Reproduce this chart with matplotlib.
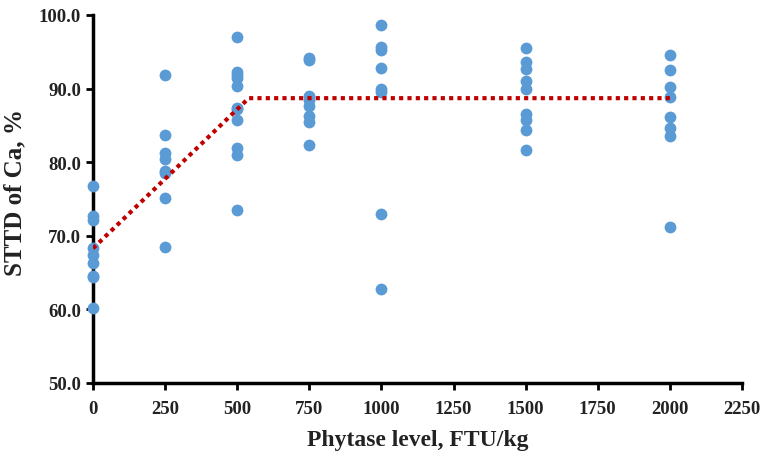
import matplotlib
matplotlib.use("Agg")
import matplotlib.pyplot as plt
import numpy as np

# Observed STTD of Ca (%) per phytase level (FTU/kg)
levels = [0, 250, 500, 750, 1000, 1500, 2000]
sttd_0 = [76.7, 72.7, 72.2, 68.3, 67.4, 66.3, 64.6, 64.4, 60.2]
sttd_250 = [91.9, 83.7, 81.3, 80.5, 78.8, 78.5, 75.1, 68.5]
sttd_500 = [97.0, 92.2, 91.8, 91.4, 90.3, 87.4, 87.2, 85.7, 81.9, 81.0, 73.5]
sttd_750 = [94.2, 93.9, 89.0, 88.5, 87.6, 86.3, 85.4, 82.4]
sttd_1000 = [98.7, 95.6, 95.3, 92.8, 89.9, 89.5, 72.9, 62.8]
sttd_1500 = [95.5, 93.6, 92.6, 91.0, 89.9, 86.5, 85.8, 84.4, 81.7]
sttd_2000 = [94.5, 92.5, 90.2, 88.8, 86.1, 84.6, 83.5, 71.2]
groups = [sttd_0, sttd_250, sttd_500, sttd_750, sttd_1000, sttd_1500, sttd_2000]

# Broken-line fit
fit_x = [0, 540, 2000]
fit_y = [68.3, 88.7, 88.7]

xticks = [0, 250, 500, 750, 1000, 1250, 1500, 1750, 2000, 2250]
yticks = [50, 60, 70, 80, 90, 100]

plt.rcParams['font.family'] = ['Liberation Serif', 'DejaVu Serif']

fig = plt.figure(figsize=(7.64, 4.6), dpi=100)
ax = fig.add_axes([93 / 764, 1 - 384 / 460, (742 - 93) / 764, (384 - 16) / 460])

for lvl, vals in zip(levels, groups):
    ax.plot([lvl] * len(vals), vals, 'o', color='#5B9BD5', markersize=8.5,
            markeredgewidth=0, clip_on=False, zorder=3)

ax.plot(fit_x, fit_y, linestyle=(0, (1, 1)), color='#C00000', linewidth=3, zorder=4)

ax.set_xlim(0, 2250)
ax.set_ylim(50, 100)
ax.set_xticks(xticks)
ax.set_yticks(yticks)
ax.set_yticklabels(['{:.1f}'.format(v) for v in yticks])

for s in ['top', 'right']:
    ax.spines[s].set_visible(False)
for s in ['left', 'bottom']:
    ax.spines[s].set_linewidth(2.5)
    ax.spines[s].set_color('black')

ax.tick_params(axis='both', direction='out', width=2, length=5,
               labelsize=13.5, colors='#222222')
ax.tick_params(axis='both', color='black')
ax.tick_params(axis='x', pad=7)
for lab in ax.get_xticklabels() + ax.get_yticklabels():
    lab.set_fontweight('bold')

ax.set_xlabel('Phytase level, FTU/kg', fontsize=17, fontweight='bold',
              labelpad=9, color='#222222')
ax.set_ylabel('STTD of Ca, %', fontsize=18, fontweight='bold', color='#222222')
ax.yaxis.set_label_coords(-0.102, 0.52)

fig.savefig('out.png', dpi=100)
